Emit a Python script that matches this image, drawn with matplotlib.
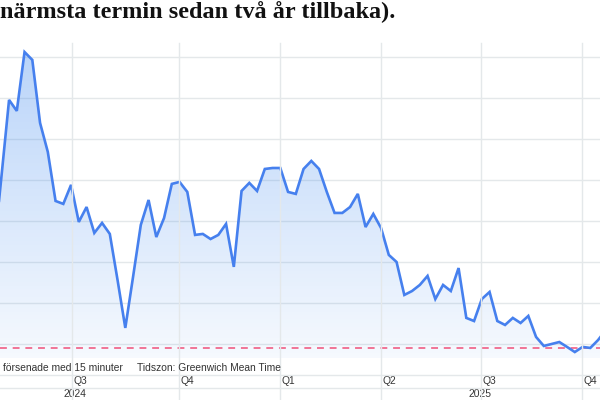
import numpy as np
import matplotlib
matplotlib.use("Agg")
import matplotlib.pyplot as plt
from matplotlib.lines import Line2D
from matplotlib.transforms import blended_transform_factory

# ---- data (weekly values) ----
values = [2.543, 3.012, 3.488, 3.421, 3.780, 3.732, 3.348, 3.171, 2.872, 2.854,
          2.970, 2.744, 2.835, 2.677, 2.738, 2.671, 2.390, 2.098, 2.409, 2.726,
          2.878, 2.652, 2.768, 2.976, 2.988, 2.927, 2.665, 2.671, 2.640, 2.665,
          2.732, 2.470, 2.933, 2.982, 2.933, 3.067, 3.073, 3.073, 2.927, 2.915,
          3.067, 3.116, 3.067, 2.927, 2.799, 2.799, 2.835, 2.915, 2.713, 2.793,
          2.707, 2.543, 2.500, 2.299, 2.323, 2.360, 2.415, 2.274, 2.360, 2.323,
          2.463, 2.159, 2.140, 2.274, 2.317, 2.140, 2.116, 2.159, 2.128, 2.171,
          2.043, 1.988, 2.000, 2.012, 1.982, 1.951, 1.982, 1.976, 2.024, 2.085]
first_week = -1
reference_level = 1.976
quarter_labels = ["Q3", "Q4", "Q1", "Q2", "Q3", "Q4"]
quarter_pos = [9.06, 22.93, 35.96, 48.99, 61.9, 74.93]
year_labels = ["2024", "2025"]
year_pos = [9.5, 61.8]
grid_levels = [2.0, 2.25, 2.5, 2.75, 3.0, 3.25, 3.5, 3.75]
title_text = "närmsta termin sedan två år tillbaka)."
footer_left = "försenade med 15 minuter"
footer_right = "Tidszon: Greenwich Mean Time"

W, H = 600, 400
fig = plt.figure(figsize=(6, 4), dpi=100)
fig.patch.set_facecolor("white")

top_px, bot_px = 43, 358
ax = fig.add_axes([0, 1 - bot_px / H, 1, (bot_px - top_px) / H])
ax.set_axis_off()
x = np.arange(first_week, first_week + len(values))
y = np.array(values)
ax.set_xlim(-0.168, 77.25)
ax.set_ylim(1.9146, 3.835)

grid_col = "#e4e8ea"
for g in grid_levels:
    ax.axhline(g, color=grid_col, lw=1.0, zorder=1)

blend = blended_transform_factory(ax.transData, fig.transFigure)
for p in quarter_pos:
    ln = Line2D([p, p], [1 - top_px / H, 0], transform=blend, color=grid_col,
                lw=1.0, zorder=1)
    fig.add_artist(ln)

for ypx in (375, 388):
    fig.add_artist(Line2D([0, 1], [1 - ypx / H] * 2, transform=fig.transFigure,
                          color=grid_col, lw=1.0))

# gradient fill under the line
x0, x1 = ax.get_xlim()
y0, y1 = ax.get_ylim()
n = 256
alpha = np.linspace(0.05, 0.38, n)[:, None]
rgba = np.zeros((n, 2, 4))
rgba[..., 0] = 0.27
rgba[..., 1] = 0.55
rgba[..., 2] = 0.94
rgba[..., 3] = alpha
im = ax.imshow(rgba, extent=[x0, x1, y0, y1], origin="lower", aspect="auto",
               zorder=2, interpolation="bilinear")
poly = ax.fill_between(x, y, y0, facecolor="none", edgecolor="none")
im.set_clip_path(poly.get_paths()[0], transform=ax.transData)
poly.remove()
ax.set_xlim(x0, x1)
ax.set_ylim(y0, y1)

ax.plot(x, y, color="#4680ee", lw=1.9, zorder=4, solid_joinstyle="miter")

ax.axhline(reference_level, color="#f0507a", lw=1.1, ls=(0, (4.5, 3.8)), zorder=3)

# texts
fig.text(0, 1 - 18 / H, title_text, fontsize=17.5, fontweight="bold",
         family="Liberation Serif", color="#111111", ha="left", va="baseline")

small = dict(fontsize=7.4, family="Liberation Sans", color="#333333")
fig.text(3 / W, 1 - 368 / H, footer_left, ha="left", va="center", **small)
fig.text(137 / W, 1 - 368 / H, footer_right, ha="left", va="center", **small)

for lab, p in zip(quarter_labels, quarter_pos):
    ax.text(p + 0.2, 1 - 381 / H, lab, transform=blend, ha="left", va="center",
            clip_on=False, **small)
for lab, p in zip(year_labels, year_pos):
    ax.text(p, 1 - 394 / H, lab, transform=blend, ha="center", va="center",
            clip_on=False, **small)

fig.savefig("out.png", dpi=100, facecolor="white")
